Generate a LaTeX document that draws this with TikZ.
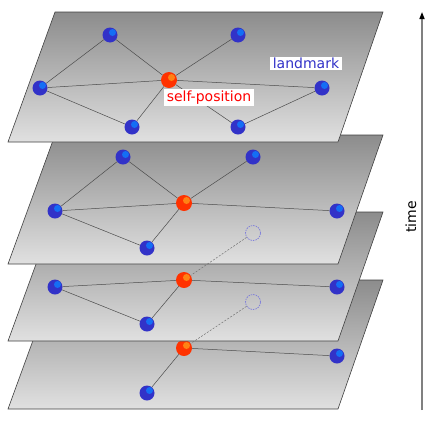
\documentclass[tikz,border=0pt]{standalone}
\usepackage{fontspec}
\setmainfont{DejaVu Sans}
\usetikzlibrary{arrows.meta}
\definecolor{lmblue}{RGB}{50,50,200}
\definecolor{lmlight}{RGB}{20,110,245}
\definecolor{selfred}{RGB}{255,50,0}
\definecolor{selflight}{RGB}{255,130,20}

\begin{document}
\begin{tikzpicture}[x=1pt, y=-1pt, >=Stealth, font=\fontsize{14}{16}\selectfont]
    \tikzstyle{plane} = [draw=black!75, line width=0.6pt, top color=black!45, bottom color=black!12]
    \tikzstyle{landmark} = [circle, inner sep=0pt, minimum size=15pt, fill=lmblue,
      path picture={\fill[lmlight] ([shift={(2.5,-2.5)}]path picture bounding box.center) circle (3.5pt);}]
    \tikzstyle{self} = [circle, inner sep=0pt, minimum size=16pt, fill=selfred,
      path picture={\fill[selflight] ([shift={(2.5,-2.5)}]path picture bounding box.center) circle (3.5pt);}]
    \tikzstyle{ghost} = [circle, inner sep=0pt, minimum size=15pt, draw=lmblue!65, dash pattern=on 1.5pt off 1pt, line width=0.7pt]
    \tikzstyle{link} = [draw=black!70, line width=0.5pt]
    \tikzstyle{trace} = [draw=black!55, line width=0.5pt, dash pattern=on 2pt off 1.5pt]
    \tikzstyle{tag} = [fill=white, inner xsep=3pt, inner ysep=1.5pt]

    \useasboundingbox (0,0) rectangle (436,426);

    % Plane 4 (oldest)
    \draw[plane] (55,280) -- (383,280) -- (338,409) -- (8,409) -- cycle;
    \node[self] (d0) at (184,348) {};
    \node[landmark] (dR) at (337,356) {};
    \node[landmark] (dB) at (147,393) {};
    \draw[link] (d0) -- (dR);
    \draw[link] (d0) -- (dB);

    % Plane 3
    \draw[plane] (55,212) -- (383,212) -- (338,341) -- (8,341) -- cycle;
    \node[self] (c0) at (184,280) {};
    \node[landmark] (cL) at (55,287) {};
    \node[landmark] (cR) at (337,287) {};
    \node[landmark] (cB) at (147,324) {};
    \draw[link] (cL) -- (c0);
    \draw[link] (c0) -- (cR);
    \draw[link] (cL) -- (cB);
    \draw[link] (cB) -- (c0);

    % Plane 2
    \draw[plane] (55,135) -- (383,135) -- (338,264) -- (8,264) -- cycle;
    \node[self] (b0) at (184,203) {};
    \node[landmark] (bTL) at (123,157) {};
    \node[landmark] (bTR) at (253,157) {};
    \node[landmark] (bL) at (55,211) {};
    \node[landmark] (bR) at (337,211) {};
    \node[landmark] (bB) at (147,248) {};
    \draw[link] (bTL) -- (bL);
    \draw[link] (bTL) -- (b0);
    \draw[link] (bTR) -- (b0);
    \draw[link] (bL) -- (b0);
    \draw[link] (b0) -- (bR);
    \draw[link] (bL) -- (bB);
    \draw[link] (bB) -- (b0);

    % Plane 1 (current)
    \draw[plane] (55,12) -- (383,12) -- (338,142) -- (8,142) -- cycle;
    \node[self] (a0) at (169,80) {};
    \node[landmark] (aTL) at (110,35) {};
    \node[landmark] (aTR) at (238,35) {};
    \node[landmark] (aL) at (40,88) {};
    \node[landmark] (aR) at (322,88) {};
    \node[landmark] (aB1) at (132,127) {};
    \node[landmark] (aB2) at (238,127) {};
    \draw[link] (aTL) -- (aL);
    \draw[link] (aTL) -- (a0);
    \draw[link] (aTR) -- (a0);
    \draw[link] (aL) -- (a0);
    \draw[link] (a0) -- (aR);
    \draw[link] (aL) -- (aB1);
    \draw[link] (aB1) -- (a0);
    \draw[link] (aB2) -- (aR);
    \draw[link] (aB2) -- (a0);
    \node[tag, text=lmblue] (lmtag) at (306,63.5) {landmark};
    \node[tag, text=red] (selftag) at (209,97.5) {self-position};

    % Unobserved landmarks
    \node[ghost] (cG) at (253,233) {};
    \draw[trace] (cG) -- (c0);
    \node[ghost] (dG) at (253,302) {};
    \draw[trace] (dG) -- (d0);

    % Time axis
    \coordinate (tbot) at (422,410);
    \coordinate (ttop) at (422,12);
    \draw[-{Triangle[black, length=7pt, width=5pt]}, black!50, line width=1.5pt] (tbot) -- (ttop);
    \node[rotate=90] (timetag) at (411,217) {time};
\end{tikzpicture}
\end{document}
